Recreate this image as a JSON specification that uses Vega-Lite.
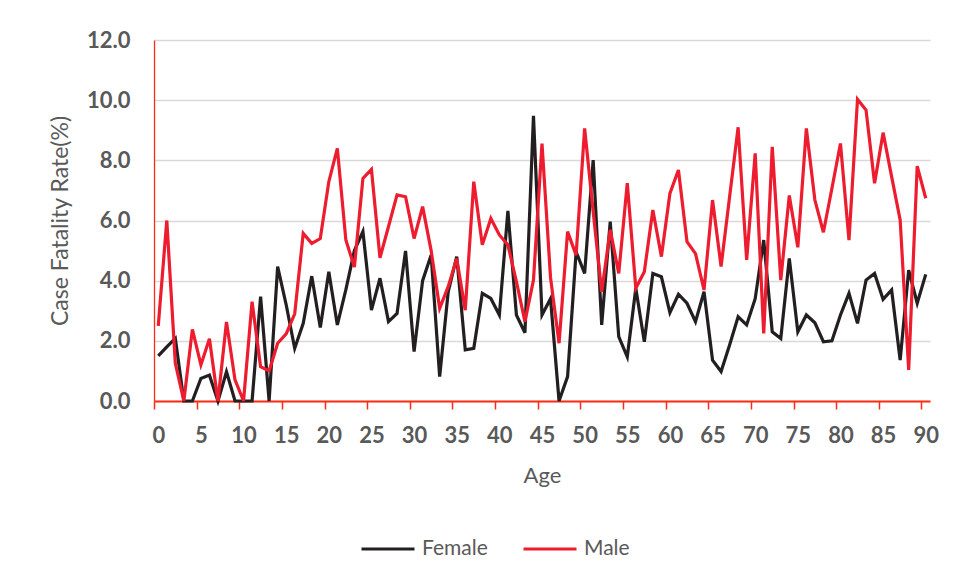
{
  "$schema": "https://vega.github.io/schema/vega-lite/v6.json",
  "width": 776,
  "height": 361,
  "autosize": {"type": "none"},
  "padding": {"left": 154, "top": 40, "right": 31, "bottom": 181},
  "background": "white",
  "config": {"view": {"stroke": null}, "font": "Lato"},
  "data": {"values": [
    {"age":0,"sex":"Female","rate":1.5},{"age":1,"sex":"Female","rate":1.8},{"age":2,"sex":"Female","rate":2.08},{"age":3,"sex":"Female","rate":0},{"age":4,"sex":"Female","rate":0},{"age":5,"sex":"Female","rate":0.75},{"age":6,"sex":"Female","rate":0.86},{"age":7,"sex":"Female","rate":0},{"age":8,"sex":"Female","rate":0.97},{"age":9,"sex":"Female","rate":0},
    {"age":10,"sex":"Female","rate":0},{"age":11,"sex":"Female","rate":0},{"age":12,"sex":"Female","rate":3.47},{"age":13,"sex":"Female","rate":0},{"age":14,"sex":"Female","rate":4.47},{"age":15,"sex":"Female","rate":3.2},{"age":16,"sex":"Female","rate":1.75},{"age":17,"sex":"Female","rate":2.58},{"age":18,"sex":"Female","rate":4.15},{"age":19,"sex":"Female","rate":2.44},
    {"age":20,"sex":"Female","rate":4.3},{"age":21,"sex":"Female","rate":2.53},{"age":22,"sex":"Female","rate":3.7},{"age":23,"sex":"Female","rate":5.0},{"age":24,"sex":"Female","rate":5.63},{"age":25,"sex":"Female","rate":3.02},{"age":26,"sex":"Female","rate":4.08},{"age":27,"sex":"Female","rate":2.64},{"age":28,"sex":"Female","rate":2.91},{"age":29,"sex":"Female","rate":4.99},
    {"age":30,"sex":"Female","rate":1.64},{"age":31,"sex":"Female","rate":4.0},{"age":32,"sex":"Female","rate":4.85},{"age":33,"sex":"Female","rate":0.81},{"age":34,"sex":"Female","rate":3.63},{"age":35,"sex":"Female","rate":4.8},{"age":36,"sex":"Female","rate":1.7},{"age":37,"sex":"Female","rate":1.75},{"age":38,"sex":"Female","rate":3.58},{"age":39,"sex":"Female","rate":3.41},
    {"age":40,"sex":"Female","rate":2.86},{"age":41,"sex":"Female","rate":6.32},{"age":42,"sex":"Female","rate":2.86},{"age":43,"sex":"Female","rate":2.27},{"age":44,"sex":"Female","rate":9.48},{"age":45,"sex":"Female","rate":2.86},{"age":46,"sex":"Female","rate":3.4},{"age":47,"sex":"Female","rate":0},{"age":48,"sex":"Female","rate":0.81},{"age":49,"sex":"Female","rate":4.96},
    {"age":50,"sex":"Female","rate":4.24},{"age":51,"sex":"Female","rate":8.01},{"age":52,"sex":"Female","rate":2.53},{"age":53,"sex":"Female","rate":5.96},{"age":54,"sex":"Female","rate":2.14},{"age":55,"sex":"Female","rate":1.47},{"age":56,"sex":"Female","rate":3.75},{"age":57,"sex":"Female","rate":1.97},{"age":58,"sex":"Female","rate":4.24},{"age":59,"sex":"Female","rate":4.13},
    {"age":60,"sex":"Female","rate":2.94},{"age":61,"sex":"Female","rate":3.55},{"age":62,"sex":"Female","rate":3.25},{"age":63,"sex":"Female","rate":2.64},{"age":64,"sex":"Female","rate":3.63},{"age":65,"sex":"Female","rate":1.36},{"age":66,"sex":"Female","rate":0.98},{"age":67,"sex":"Female","rate":1.86},{"age":68,"sex":"Female","rate":2.8},{"age":69,"sex":"Female","rate":2.53},
    {"age":70,"sex":"Female","rate":3.4},{"age":71,"sex":"Female","rate":5.35},{"age":72,"sex":"Female","rate":2.3},{"age":73,"sex":"Female","rate":2.08},{"age":74,"sex":"Female","rate":4.74},{"age":75,"sex":"Female","rate":2.3},{"age":76,"sex":"Female","rate":2.86},{"age":77,"sex":"Female","rate":2.6},{"age":78,"sex":"Female","rate":1.97},{"age":79,"sex":"Female","rate":2.0},
    {"age":80,"sex":"Female","rate":2.86},{"age":81,"sex":"Female","rate":3.58},{"age":82,"sex":"Female","rate":2.58},{"age":83,"sex":"Female","rate":4.02},{"age":84,"sex":"Female","rate":4.24},{"age":85,"sex":"Female","rate":3.38},{"age":86,"sex":"Female","rate":3.69},{"age":87,"sex":"Female","rate":1.36},{"age":88,"sex":"Female","rate":4.35},{"age":89,"sex":"Female","rate":3.25},
    {"age":90,"sex":"Female","rate":4.21},
    {"age":0,"sex":"Male","rate":2.5},{"age":1,"sex":"Male","rate":6.0},{"age":2,"sex":"Male","rate":1.25},{"age":3,"sex":"Male","rate":0},{"age":4,"sex":"Male","rate":2.38},{"age":5,"sex":"Male","rate":1.2},{"age":6,"sex":"Male","rate":2.07},{"age":7,"sex":"Male","rate":0},{"age":8,"sex":"Male","rate":2.63},{"age":9,"sex":"Male","rate":0.7},
    {"age":10,"sex":"Male","rate":0},{"age":11,"sex":"Male","rate":3.3},{"age":12,"sex":"Male","rate":1.14},{"age":13,"sex":"Male","rate":1.0},{"age":14,"sex":"Male","rate":1.92},{"age":15,"sex":"Male","rate":2.23},{"age":16,"sex":"Male","rate":2.9},{"age":17,"sex":"Male","rate":5.57},{"age":18,"sex":"Male","rate":5.24},{"age":19,"sex":"Male","rate":5.4},
    {"age":20,"sex":"Male","rate":7.29},{"age":21,"sex":"Male","rate":8.4},{"age":22,"sex":"Male","rate":5.35},{"age":23,"sex":"Male","rate":4.45},{"age":24,"sex":"Male","rate":7.4},{"age":25,"sex":"Male","rate":7.7},{"age":26,"sex":"Male","rate":4.76},{"age":27,"sex":"Male","rate":5.8},{"age":28,"sex":"Male","rate":6.85},{"age":29,"sex":"Male","rate":6.79},
    {"age":30,"sex":"Male","rate":5.4},{"age":31,"sex":"Male","rate":6.46},{"age":32,"sex":"Male","rate":5.0},{"age":33,"sex":"Male","rate":3.08},{"age":34,"sex":"Male","rate":3.8},{"age":35,"sex":"Male","rate":4.74},{"age":36,"sex":"Male","rate":3.02},{"age":37,"sex":"Male","rate":7.29},{"age":38,"sex":"Male","rate":5.19},{"age":39,"sex":"Male","rate":6.07},
    {"age":40,"sex":"Male","rate":5.52},{"age":41,"sex":"Male","rate":5.19},{"age":42,"sex":"Male","rate":3.97},{"age":43,"sex":"Male","rate":2.64},{"age":44,"sex":"Male","rate":4.02},{"age":45,"sex":"Male","rate":8.56},{"age":46,"sex":"Male","rate":4.1},{"age":47,"sex":"Male","rate":1.92},{"age":48,"sex":"Male","rate":5.63},{"age":49,"sex":"Male","rate":4.85},
    {"age":50,"sex":"Male","rate":9.06},{"age":51,"sex":"Male","rate":6.3},{"age":52,"sex":"Male","rate":3.63},{"age":53,"sex":"Male","rate":5.69},{"age":54,"sex":"Male","rate":4.24},{"age":55,"sex":"Male","rate":7.24},{"age":56,"sex":"Male","rate":3.75},{"age":57,"sex":"Male","rate":4.3},{"age":58,"sex":"Male","rate":6.35},{"age":59,"sex":"Male","rate":4.8},
    {"age":60,"sex":"Male","rate":6.9},{"age":61,"sex":"Male","rate":7.68},{"age":62,"sex":"Male","rate":5.3},{"age":63,"sex":"Male","rate":4.9},{"age":64,"sex":"Male","rate":3.69},{"age":65,"sex":"Male","rate":6.68},{"age":66,"sex":"Male","rate":4.47},{"age":67,"sex":"Male","rate":6.79},{"age":68,"sex":"Male","rate":9.1},{"age":69,"sex":"Male","rate":4.69},
    {"age":70,"sex":"Male","rate":8.23},{"age":71,"sex":"Male","rate":2.25},{"age":72,"sex":"Male","rate":8.45},{"age":73,"sex":"Male","rate":4.02},{"age":74,"sex":"Male","rate":6.83},{"age":75,"sex":"Male","rate":5.11},{"age":76,"sex":"Male","rate":9.06},{"age":77,"sex":"Male","rate":6.68},{"age":78,"sex":"Male","rate":5.61},{"age":79,"sex":"Male","rate":7.07},
    {"age":80,"sex":"Male","rate":8.56},{"age":81,"sex":"Male","rate":5.35},{"age":82,"sex":"Male","rate":10.03},{"age":83,"sex":"Male","rate":9.67},{"age":84,"sex":"Male","rate":7.24},{"age":85,"sex":"Male","rate":8.92},{"age":86,"sex":"Male","rate":7.46},{"age":87,"sex":"Male","rate":6.02},{"age":88,"sex":"Male","rate":1.03},{"age":89,"sex":"Male","rate":7.81},
    {"age":90,"sex":"Male","rate":6.74}
  ]},
  "mark": {"type": "line", "strokeWidth": 3.2},
  "encoding": {
    "x": {
      "field": "age", "type": "quantitative",
      "scale": {"domain": [-0.5, 90.5], "nice": false, "zero": false},
      "axis": {
        "values": [-0.5, 4.5, 9.5, 14.5, 19.5, 24.5, 29.5, 34.5, 39.5, 44.5, 49.5, 54.5, 59.5, 64.5, 69.5, 74.5, 79.5, 84.5, 89.5],
        "labelExpr": "format(datum.value + 0.5, 'd')",
        "labelOffset": 4.26,
        "labelFlush": false,
        "labelOverlap": false,
        "grid": false,
        "title": "Age",
        "domainColor": "#FF2B12", "domainWidth": 2,
        "tickColor": "#FF2B12", "tickWidth": 1.5, "tickSize": 8,
        "labelFont": "Lato", "labelFontSize": 22, "labelFontWeight": "bold", "labelColor": "#595959", "labelPadding": 16,
        "titleFont": "Lato", "titleFontSize": 22, "titleFontWeight": "normal", "titleColor": "#595959", "titlePadding": 19
      }
    },
    "y": {
      "field": "rate", "type": "quantitative",
      "scale": {"domain": [0, 12], "nice": false},
      "axis": {
        "values": [0, 2, 4, 6, 8, 10, 12],
        "format": ".1f",
        "ticks": false,
        "labelFlush": false,
        "domainColor": "#FF2B12", "domainWidth": 1.3,
        "gridColor": "#D9D9D9", "gridWidth": 1.3,
        "title": "Case Fatality Rate(%)",
        "labelFont": "Lato", "labelFontSize": 22, "labelFontWeight": "bold", "labelColor": "#595959", "labelPadding": 24,
        "titleFont": "Lato", "titleFontSize": 23, "titleFontWeight": "normal", "titleColor": "#595959", "titlePadding": 14
      }
    },
    "color": {
      "field": "sex", "type": "nominal",
      "scale": {"domain": ["Female", "Male"], "range": ["#231F20", "#ED1C2E"]},
      "legend": {
        "title": null,
        "orient": "none",
        "direction": "horizontal",
        "legendX": 206,
        "legendY": 481,
        "symbolType": "stroke",
        "symbolSize": 2809,
        "symbolStrokeWidth": 3,
        "labelFont": "Lato", "labelFontSize": 21, "labelColor": "#595959",
        "labelOffset": 6,
        "columnPadding": 29
      }
    }
  }
}
